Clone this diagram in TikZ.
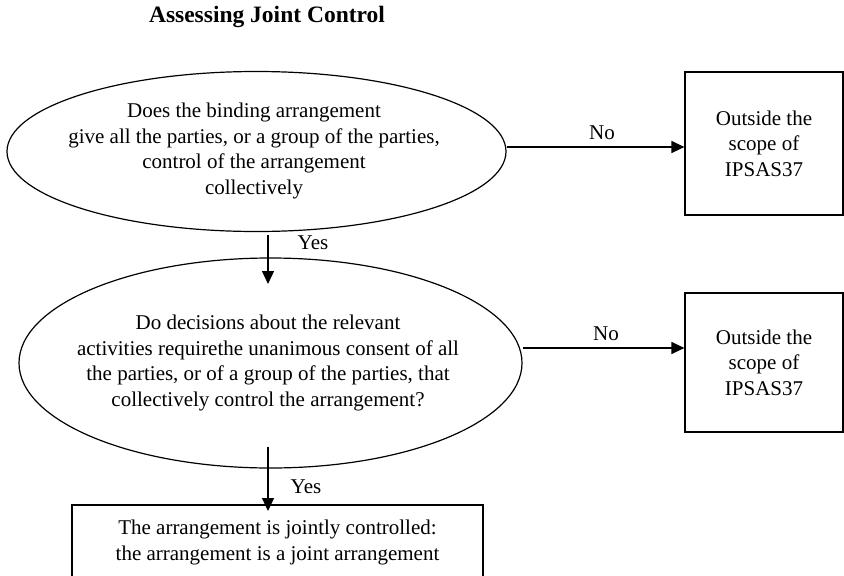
\documentclass[tikz,border=0pt]{standalone}
\usepackage{fontspec}
\setmainfont{Liberation Serif}
\usetikzlibrary{shapes.geometric,arrows.meta}
\begin{document}
\begin{tikzpicture}[x=1pt,y=-1pt,
  every node/.style={font=\fontsize{21}{25.5}\selectfont},
  oval/.style={ellipse,draw,line width=1.2pt,inner sep=0pt},
  txt/.style={align=center,inner sep=0pt},
  outbox/.style={draw,line width=1.2pt,minimum width=158pt,minimum height=143pt,inner sep=0pt,align=center},
  conn/.style={line width=1.2pt,-{Triangle[length=13pt,width=12pt]}},
  lbl/.style={inner sep=0pt}]
\path[use as bounding box] (0,0) rectangle (844,576);
\clip (0,0) rectangle (844,576);

\node[inner sep=0pt,font=\fontsize{23.5}{26}\selectfont\bfseries] (title) at (267,17) {Assessing Joint Control};

\node[oval,minimum width=499pt,minimum height=160pt] (e1) at (256.5,151.5) {};
\node[txt] (t1) at (254,151) {Does the binding arrangement\\give all the parties, or a group of the parties,\\control of the arrangement\\collectively};

\node[outbox] (b1) at (764,143.5) {Outside the\\scope of\\IPSAS37};

\node[oval,minimum width=503pt,minimum height=210pt] (e2) at (270.5,363) {};
\node[txt] (t2) at (268,363) {Do decisions about the relevant\\activities requirethe unanimous consent of all\\the parties, or of a group of the parties, that\\collectively control the arrangement?};

\node[outbox,minimum height=139pt] (b2) at (764,362.5) {Outside the\\scope of\\IPSAS37};

\node[draw,line width=1.2pt,minimum width=411pt,minimum height=75pt,inner sep=0pt,align=center] (b3) at (277.5,542.5) {The arrangement is jointly controlled:\\the arrangement is a joint arrangement};

% connectors
\coordinate (n1s) at (e1.east |- 0,147);
\coordinate (n1e) at (b1.west |- 0,147);
\draw[conn] (n1s) -- (n1e);
\node[lbl] (no1) at (602,133) {No};

\coordinate (n2s) at (e2.east |- 0,348);
\coordinate (n2e) at (b2.west |- 0,348);
\draw[conn] (n2s) -- (n2e);
\node[lbl] (no2) at (606,334) {No};

\coordinate (y1s) at (268,235);
\coordinate (y1e) at (268,284);
\draw[conn] (y1s) -- (y1e);
\node[lbl] (yes1) at (313,243) {Yes};

\coordinate (y2s) at (268,447);
\coordinate (y2e) at (268,511);
\draw[conn] (y2s) -- (y2e);
\node[lbl] (yes2) at (306,487) {Yes};
\end{tikzpicture}
\end{document}
